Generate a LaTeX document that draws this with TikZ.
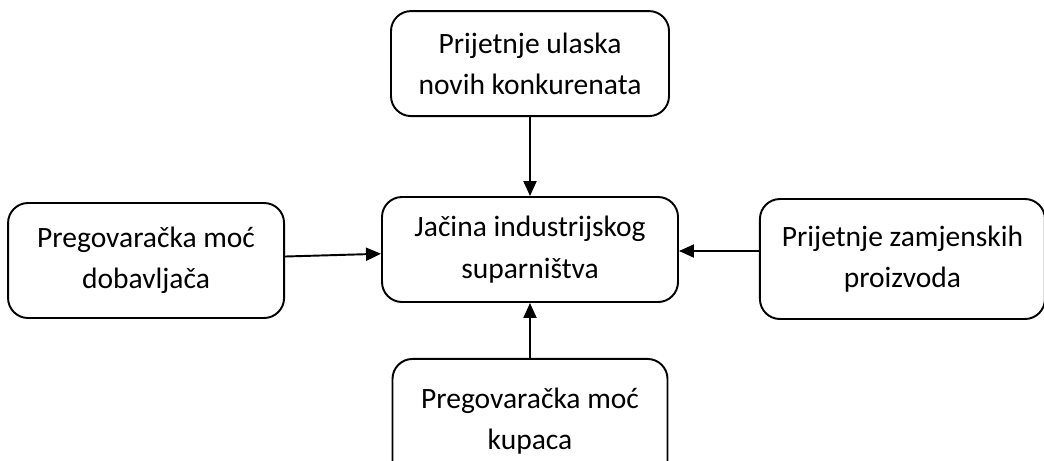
\documentclass[tikz,border=0pt]{standalone}
\usepackage{fontspec}
\setmainfont{Carlito}
\usetikzlibrary{positioning,arrows.meta}

\begin{document}
\begin{tikzpicture}[->,>={Triangle[length=0.3cm,width=0.26cm]},line width=1.1pt,
  main node/.style={rectangle,rounded corners=0.4cm,draw,align=center,inner sep=0pt,
    font=\fontsize{16.8}{23.5}\selectfont}]

\useasboundingbox (0,0) rectangle (20.88,-9.2);

\node[main node,minimum width=5.92cm,minimum height=2.1cm] (C) at (10.6,-4.99) {Jačina industrijskog\\suparništva};
\node[main node,minimum width=5.56cm,minimum height=2.1cm] (T) [above=1.58cm of C] {Prijetnje ulaska\\novih konkurenata};
\node[main node,minimum width=5.52cm,minimum height=2.3cm] (L) [left=1.92cm of C,yshift=-0.22cm] {Pregovaračka moć\\dobavljača};
\node[main node,minimum width=5.7cm,minimum height=2.4cm] (R) [right=1.6cm of C,yshift=-0.19cm] {Prijetnje zamjenskih\\proizvoda};
\node[main node,minimum width=5.5cm,minimum height=2.5cm] (B) [below=1.1cm of C] {Pregovaračka moć\\kupaca};

\path
    (T) edge (C)
    (L) edge (C)
    ([yshift=-0.03cm]R.west |- C) edge ([yshift=-0.03cm]C.east)
    (B) edge (C);
\end{tikzpicture}
\end{document}
